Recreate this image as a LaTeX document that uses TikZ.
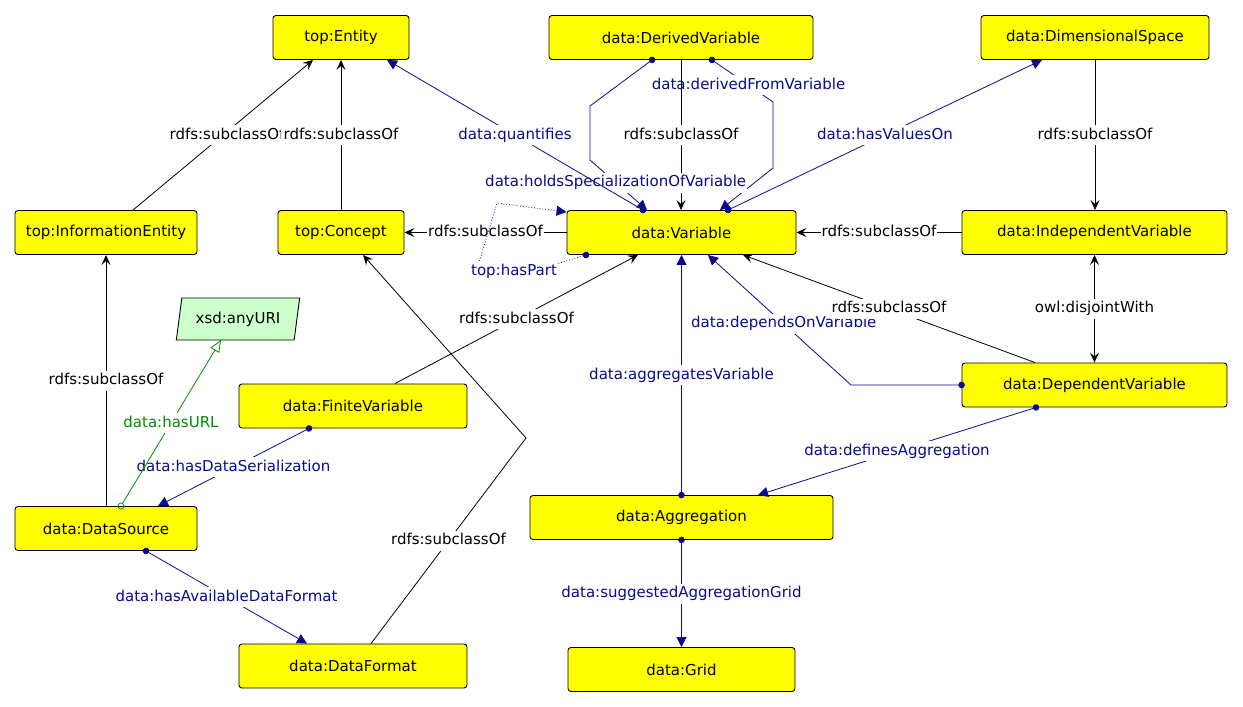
\documentclass[tikz,border=0pt]{standalone}
\usepackage{fontspec}
\setmainfont{DejaVu Sans}
\usetikzlibrary{arrows.meta,shapes.geometric}
\definecolor{objblue}{RGB}{10,10,140}
\definecolor{dtgreen}{RGB}{0,140,0}
\definecolor{clsyellow}{RGB}{255,255,0}
\definecolor{dtfill}{RGB}{204,255,204}
\newcommand{\lblfont}{\fontsize{15}{18}\selectfont}

\begin{document}
\begin{tikzpicture}[x=1pt,y=-1pt,
  cls/.style={draw, fill=clsyellow, rounded corners=3pt, minimum height=44pt,
    inner sep=0pt, line width=0.9pt, font=\lblfont},
  dtype/.style={draw, fill=dtfill, shape=trapezium, trapezium left angle=74,
    trapezium right angle=106, trapezium stretches=true, minimum width=124pt,
    minimum height=42pt, inner sep=0pt, line width=0.9pt, font=\lblfont},
  lbl/.style={fill=white, inner xsep=1pt, inner ysep=3pt, font=\lblfont,
    text height=11pt, text depth=3pt},
  olbl/.style={lbl, text=objblue},
  glbl/.style={lbl, text=dtgreen},
  subtip/.tip={Stealth[length=10pt,width=9pt,inset=4pt]},
  subof/.style={draw=black, line width=0.8pt, -subtip},
  twoway/.style={draw=black, line width=0.8pt, subtip-subtip},
  objprop/.style={draw=objblue, line width=0.8pt,
    {Circle[length=6.5pt,sep=-3.25pt]}-{Triangle[length=10pt,width=10pt]}},
  haspart/.style={objprop, dotted},
  dataprop/.style={draw=dtgreen, line width=0.8pt,
    {Circle[open,length=7pt,sep=-3.5pt]}-{Triangle[open,length=12pt,width=10pt]}}
]
\useasboundingbox (0,0) rectangle (1243,707);

% classes
\node[cls, minimum width=136pt] (ent)      at (341,37.5)    {top:Entity};
\node[cls, minimum width=182pt] (infent)   at (106,232.5)   {top:InformationEntity};
\node[cls, minimum width=126pt] (concept)  at (341,232.5)   {top:Concept};
\node[cls, minimum width=264pt] (derived)  at (681,37.5)    {data:DerivedVariable};
\node[cls, minimum width=228pt] (dimspace) at (1095,37.5)   {data:DimensionalSpace};
\node[cls, minimum width=229pt] (var)      at (681.5,232.5) {data:Variable};
\node[cls, minimum width=265pt] (indep)    at (1094.5,232.5) {data:IndependentVariable};
\node[cls, minimum width=265pt] (dep)      at (1094.5,385)  {data:DependentVariable};
\node[cls, minimum width=228pt] (finite)   at (353,406)     {data:FiniteVariable};
\node[cls, minimum width=182pt] (dsource)  at (106,528.5)   {data:DataSource};
\node[cls, minimum width=228pt] (dformat)  at (353,666)     {data:DataFormat};
\node[cls, minimum width=303pt] (aggr)     at (681.5,517.5) {data:Aggregation};
\node[cls, minimum width=227pt] (grid)     at (681.5,669.5) {data:Grid};
% datatype
\node[dtype] (uri) at (238,319) {xsd:anyURI};

% subclasses of top:Entity
\draw[subof] ([xshift=27pt]infent.north) -- node[lbl, xshift=4pt]{rdfs:subclassOf} ([xshift=-28pt]ent.south);
\draw[subof] (concept.north) -- node[lbl, inner xsep=3pt]{rdfs:subclassOf} (ent.south);

% links between data:DerivedVariable and data:Variable
\draw[objprop] ([xshift=31pt]derived.south) -- node[olbl, pos=0.6]{data:derivedFromVariable} (773,102)
  -- (773,168) -- ([xshift=38.5pt]var.north);
\draw[subof] (derived.south) -- node[lbl]{rdfs:subclassOf} (derived.south |- var.north);
\draw[objprop] ([xshift=-29pt]derived.south) -- (590,106) -- (590,160)
  -- node[olbl, pos=0.45]{data:holdsSpecializationOfVariable} ([xshift=-34.5pt]var.north);

\draw[objprop] ([xshift=-38.5pt]var.north) -- node[olbl]{data:quantifies} ([xshift=46pt]ent.south);
\draw[objprop] ([xshift=46.5pt]var.north) -- node[olbl]{data:hasValuesOn} ([xshift=-53pt]dimspace.south);
\draw[subof] (dimspace.south) -- node[lbl]{rdfs:subclassOf} (dimspace.south |- indep.north);
\draw[subof] (indep.west) -- node[lbl]{rdfs:subclassOf} (var.east);
\draw[subof] (var.west) -- node[lbl]{rdfs:subclassOf} (concept.east);

% part-of loop on data:Variable
\draw[haspart] ([xshift=-95.5pt]var.south) -- (550,266) -- node[olbl, yshift=-5pt]{top:hasPart} (478,266)
  -- (497,203) -- ([yshift=-2pt]var.north west);

% below data:Variable
\draw[subof] ([xshift=42pt]finite.north) -- node[lbl]{rdfs:subclassOf} ([xshift=-43.5pt]var.south);
\draw[objprop] (aggr.north) -- node[olbl]{data:aggregatesVariable} (var.south);
\draw[objprop] (dep.west) -- (851,385) -- node[olbl, pos=0.47]{data:dependsOnVariable} ([xshift=26.5pt]var.south);
\draw[subof] ([xshift=-59.5pt]dep.north) -- node[lbl]{rdfs:subclassOf} ([xshift=61.5pt]var.south);
\draw[twoway] (indep.south) -- node[lbl]{owl:disjointWith} (dep.north);
\draw[objprop] ([xshift=-58.5pt]dep.south) -- node[olbl]{data:definesAggregation} ([xshift=76.5pt]aggr.north);
\draw[objprop] (aggr.south) -- node[olbl]{data:suggestedAggregationGrid} (grid.north);

% data sources and formats
\draw[subof] (dsource.north) -- node[lbl]{rdfs:subclassOf} (infent.south);
\draw[objprop] ([xshift=-44pt]finite.south) -- node[olbl]{data:hasDataSerialization} ([xshift=52pt]dsource.north);
\draw[dataprop] ([xshift=15pt]dsource.north) -- node[glbl]{data:hasURL} ([xshift=-17pt,yshift=-21pt]uri.center);
\draw[objprop] ([xshift=40pt]dsource.south) -- node[olbl]{data:hasAvailableDataFormat} ([xshift=-46pt]dformat.north);
\draw[subof] ([xshift=18pt]dformat.north) -- node[lbl]{rdfs:subclassOf} (526,438) -- ([xshift=22pt]concept.south);
\end{tikzpicture}
\end{document}
